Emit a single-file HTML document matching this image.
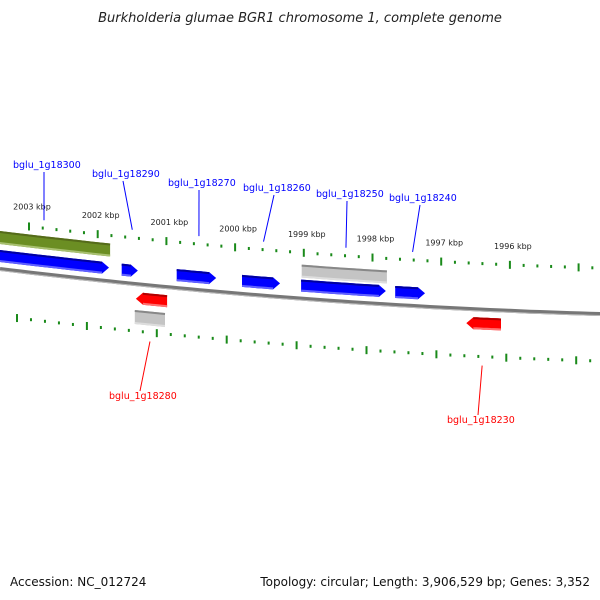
<!DOCTYPE html>
<html><head><meta charset="utf-8"><style>
body{margin:0;background:#fff}
svg{display:block;font-family:"DejaVu Sans","Liberation Sans",sans-serif}
</style></head><body>
<svg id="c" width="600" height="600" viewBox="0 0 600 600">
<text x="300" y="22" text-anchor="middle" font-size="13" font-style="italic" fill="#222">Burkholderia glumae BGR1 chromosome 1, complete genome</text>
<text x="10" y="586" font-size="12" fill="#111">Accession: NC_012724</text>
<text x="590" y="586" font-size="12" fill="#111" text-anchor="end">Topology: circular; Length: 3,906,529 bp; Genes: 3,352</text>
</svg>
<script>
const majorKbp=[2003,2002,2001,2000,1999,1998,1997,1996,1995];
const tickLabels=["2003 kbp","2002 kbp","2001 kbp","2000 kbp","1999 kbp","1998 kbp","1997 kbp","1996 kbp"];
const geneNames=["bglu_1g18300","bglu_1g18290","bglu_1g18270","bglu_1g18260","bglu_1g18250","bglu_1g18240","bglu_1g18280","bglu_1g18230"];
const geneStart=[2003.8,2001.65,2000.85,1999.90,1999.04,1997.67,2001.43,1996.62];
const geneEnd=[2001.85,2001.43,2000.29,1999.36,1997.82,1997.25,2000.99,1996.13];
const geneStrand=[1,1,1,1,1,1,-1,-1];
const featStart=[2003.8,1999.03,2001.46];
const featEnd=[2001.82,1997.79,2001.02];
const featType=["green","gray","gray-low"];
const labelPos=[[13,168],[92,177],[168,186],[243,191],[316,197],[389,201],[109,399],[447,423]];
const NS="http://www.w3.org/2000/svg",svg=document.getElementById('c');
function X(k){return 29+(2003-k)*68.7}
function XL(k){return 17+(2003-k)*69.9}
function B(x){return 269+0.1217*x-7.775e-5*x*x}
function mk(t,a,p){const e=document.createElementNS(NS,t);for(const k in a)e.setAttribute(k,a[k]);(p||svg).appendChild(e);return e}
let d="";for(let x=0;x<=600;x+=10)d+=(x?"L":"M")+x+","+B(x).toFixed(1);
let bb=mk('path',{d:d,stroke:'#777',"stroke-width":4,fill:'none'});


mk('path',{d:d,stroke:'#bbb',"stroke-width":1,fill:'none',transform:'translate(0,1.5)'});
for(let i=0;i<majorKbp.length;i++){
 for(let j=0;j<5;j++){
  const k=majorKbp[i]-j*0.2;
  [[X(k),-46],[XL(k),47]].forEach(([x,o],r)=>{
   if(x<-2||x>602)return;
   const y=B(x)+o;
   const t=mk('rect',{x:x-1,y:j?y-1.5:y-4,width:2,height:j?3:8,fill:'#1a8a1a'});
   
   
  });
 }
 if(i<tickLabels.length){
  const x=X(majorKbp[i]);
  const tl=mk('text',{x:x+3,y:B(x)-62+(i<1?-1:0),"font-size":8,fill:'#222',"text-anchor":'middle'});
  tl.textContent=tickLabels[i];
  
  
 }
}
function band(x1,x2,o,h,fill,arrow,top,bot){
 let pts=[],n=8;
 for(let i=0;i<=n;i++){const x=x1+(x2-x1)*i/n;pts.push([x,B(x)+o])}
 let p="M"+pts.map(q=>q[0].toFixed(1)+","+q[1].toFixed(1)).join("L");
 if(arrow>0){p+=`L${x2+7},${B(x2)+o+h/2}L${x2},${B(x2)+o+h}`;}
 let bp=[];for(let i=n;i>=0;i--){const x=x1+(x2-x1)*i/n;bp.push([x,B(x)+o+h])}
 if(arrow<0){p+="L"+bp.map(q=>q[0].toFixed(1)+","+q[1].toFixed(1)).join("L")+`L${x1-7},${B(x1)+o+h/2}Z`;}
 else p+="L"+bp.map(q=>q[0].toFixed(1)+","+q[1].toFixed(1)).join("L")+"Z";
 const g=mk('path',{d:p,fill:fill});
 mk('path',{d:"M"+pts.map(q=>q[0].toFixed(1)+","+(q[1]+1).toFixed(1)).join("L"),stroke:top,"stroke-width":2,fill:'none'});
 mk('path',{d:"M"+bp.map(q=>q[0].toFixed(1)+","+(q[1]-1).toFixed(1)).join("L"),stroke:bot,"stroke-width":2,fill:'none'});
 return g;
}
for(let i=0;i<featStart.length;i++){
 const x1=X(featStart[i]),x2=X(featEnd[i]);let g;
 if(featType[i]=="green")g=band(x1,x2,-38,13,'#6b8e23','0','#556b1a','#a8c070');
 else if(featType[i]=="gray")g=band(x1,x2,-34,13,'#c4c4c4','0','#888','#ddd');
 else g=band(x1,x2,26,14,'#c4c4c4','0','#888','#ddd');
 
 
}
for(let i=0;i<geneNames.length;i++){
 const x1=X(geneStart[i]),x2=X(geneEnd[i]),s=geneStrand[i];
 let g;
 if(s>0)g=band(x1,x2-6,-19,12,'#0000ff',1,'#0000a0','#6060ff');
 else g=band(x1+6,x2,8,12,'#ff0000',-1,'#b00000','#ff7070');
 
 
 const col=s>0?'#0000ff':'#ff0000';
 const [lx,ly]=labelPos[i];
 const mx=(x1+x2)/2+(s>0?3:-2);
 const ty=s>0?B(mx)-54:B(mx)+56;
 const ln=mk('line',{x1:lx+31,y1:s>0?ly+4:ly-8,x2:mx,y2:ty,stroke:col,"stroke-width":1});
 
 
 const t=mk('text',{x:lx,y:ly,"font-size":9.5,fill:col});
 t.textContent=geneNames[i];
 
 
}
</script>
</body></html>
